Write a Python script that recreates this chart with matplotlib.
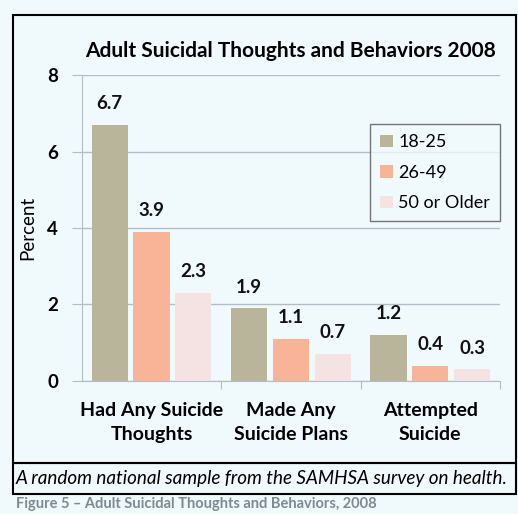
import matplotlib.pyplot as plt
from matplotlib.patches import Rectangle
import numpy as np

categories = ['Had Any Suicide\nThoughts', 'Made Any\nSuicide Plans', 'Attempted\nSuicide']
age_groups = ['18-25', '26-49', '50 or Older']
values_18_25 = [6.7, 1.9, 1.2]
values_26_49 = [3.9, 1.1, 0.4]
values_50_up = [2.3, 0.7, 0.3]
y_ticks = [0, 2, 4, 6, 8]

colors = ['#b9b59b', '#f9b397', '#f5e2e3']
bg = '#f0f9fc'
grid_col = '#b4bcc6'

plt.rcParams['font.family'] = ['Lato', 'DejaVu Sans']

fig = plt.figure(figsize=(5.18, 5.14), dpi=100)
fig.set_facecolor(bg)
ax = fig.add_axes([0.158, 0.259, 0.807, 0.595])
ax.set_facecolor(bg)

x = np.arange(len(categories))
w = 0.26
series = [values_18_25, values_26_49, values_50_up]
for i, vals in enumerate(series):
    pos = x + (i - 1) * 0.3
    bars = ax.bar(pos, vals, width=w, color=colors[i], label=age_groups[i], zorder=3)
    for b, v in zip(bars, vals):
        ax.text(b.get_x() + b.get_width() / 2, v + 0.33, f'{v:.1f}',
                ha='center', va='bottom', fontsize=13.5, fontweight='bold', color='#111111')

ax.set_xlim(-0.5, 2.5)
ax.set_ylim(0, 8)
ax.set_yticks(y_ticks)
ax.set_yticklabels([str(t) for t in y_ticks], fontsize=13.5, fontweight='bold')
ax.yaxis.grid(True, color=grid_col, linewidth=1, zorder=0)
ax.set_xticks([0.5, 1.5, 2.5])
ax.set_xticklabels([])
ax.set_xticks(x, minor=True)
ax.set_xticklabels(categories, minor=True, fontsize=14, fontweight='bold', linespacing=1.5)
ax.tick_params(axis='x', which='minor', length=0, pad=15)
ax.tick_params(axis='x', which='major', length=6, color=grid_col)
ax.tick_params(axis='y', length=7, color=grid_col, pad=10)

for s in ['top', 'right']:
    ax.spines[s].set_visible(False)
for s in ['left', 'bottom']:
    ax.spines[s].set_color(grid_col)

ax.set_ylabel('Percent', fontsize=13.5, labelpad=8)
ax.set_title('Adult Suicidal Thoughts and Behaviors 2008', fontsize=15,
             fontweight='bold', pad=13, x=0.5)

leg = ax.legend(loc='upper right', bbox_to_anchor=(1.022, 0.868), fontsize=13,
                frameon=True, fancybox=False, edgecolor='#555555', facecolor=bg,
                handlelength=0.7, handleheight=0.7, handletextpad=0.3,
                labelspacing=0.8, borderpad=0.55)
leg.get_frame().set_linewidth(1)

# outer boxes
fig.patches.append(Rectangle((0.025, 0.099), 0.972, 0.872, transform=fig.transFigure,
                             fill=False, edgecolor='black', linewidth=1.5))
fig.patches.append(Rectangle((0.025, 0.039), 0.972, 0.06, transform=fig.transFigure,
                             fill=False, edgecolor='black', linewidth=1.5))
fig.text(0.03, 0.07, 'A random national sample from the SAMHSA survey on health.',
         fontsize=13.6, style='italic', va='center', ha='left')
fig.text(0.03, 0.019, 'Figure 5 \u2013 Adult Suicidal Thoughts and Behaviors, 2008',
         fontsize=10.5, fontweight='bold', color='#7d8a92', va='center', ha='left')

fig.savefig('out.png', dpi=100, facecolor=bg)
